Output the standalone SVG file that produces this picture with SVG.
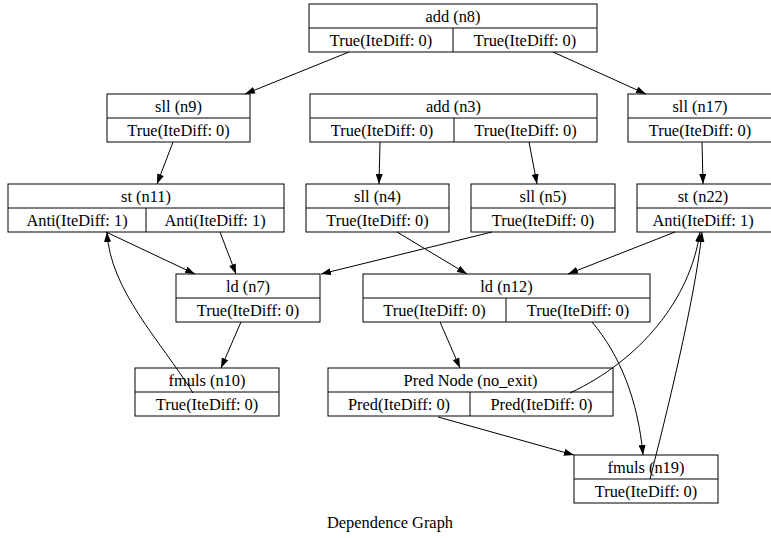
<svg xmlns="http://www.w3.org/2000/svg" width="771" height="538" viewBox="0 0 771 538">
<style>
.b{fill:#fff;stroke:#000;stroke-width:1}
.l{stroke:#000;stroke-width:1;fill:none}
text{font-family:"Liberation Serif","Times New Roman",serif;font-size:16.4px;fill:#000;text-anchor:middle}
.e{fill:none;stroke:#000;stroke-width:1;marker-end:url(#ah)}
</style>
<defs>
<marker id="ah" viewBox="0 0 10 7" refX="10" refY="3.5" markerWidth="10" markerHeight="7" markerUnits="userSpaceOnUse" orient="auto">
<path d="M0,0 L10,3.5 L0,7 z" fill="#000"/>
</marker>
</defs>
<rect width="771" height="538" fill="#fff"/>
<g id="edges">
<path class="e" d="M349,52 L245,94"/>
<path class="e" d="M553,52 L646,94"/>
<path class="e" d="M173,142 L157,184"/>
<path class="e" d="M380,142 L379,184"/>
<path class="e" d="M529,142 L537,184"/>
<path class="e" d="M702,142 L703,184"/>
<path class="e" d="M106,232 L195,274"/>
<path class="e" d="M220,232 L236,274"/>
<path class="e" d="M193,393 C160,340 110,290 107,232"/>
<path class="e" d="M397,232 L467,274"/>
<path class="e" d="M492,232 L321,274"/>
<path class="e" d="M675,232 L568,274"/>
<path class="e" d="M241,322 L221,368"/>
<path class="e" d="M440,322 L460,368"/>
<path class="e" d="M592,322 C620,355 638,400 643,455"/>
<path class="e" d="M570,393 C640,360 690,300 700,232"/>
<path class="e" d="M650,479 C665,420 695,300 702,232"/>
<path class="e" d="M438,417 L574,455"/>
</g>
<g id="n8">
<rect class="b" x="309" y="4" width="288" height="48" fill-opacity="0"/>
<path class="l" d="M309,28 H597 M453,28 V52"/>
<text x="453" y="21.5">add (n8)</text>
<text x="381" y="45.5">True(IteDiff: 0)</text>
<text x="525" y="45.5">True(IteDiff: 0)</text>
</g>
<g id="n9">
<rect class="b" x="107" y="94" width="143" height="48" fill-opacity="0"/>
<path class="l" d="M107,118 H250"/>
<text x="178.5" y="111.5">sll (n9)</text>
<text x="178.5" y="135.5">True(IteDiff: 0)</text>
</g>
<g id="n3">
<rect class="b" x="310" y="94" width="287" height="48" fill-opacity="0"/>
<path class="l" d="M310,118 H597 M454,118 V142"/>
<text x="453.5" y="111.5">add (n3)</text>
<text x="382" y="135.5">True(IteDiff: 0)</text>
<text x="525.5" y="135.5">True(IteDiff: 0)</text>
</g>
<g id="n17">
<rect class="b" x="628" y="94" width="145" height="48" fill-opacity="0"/>
<path class="l" d="M628,118 H773"/>
<text x="700" y="111.5">sll (n17)</text>
<text x="700" y="135.5">True(IteDiff: 0)</text>
</g>
<g id="n11">
<rect class="b" x="8" y="184" width="276" height="48" fill-opacity="0"/>
<path class="l" d="M8,208 H284 M146,208 V232"/>
<text x="146" y="201.5">st (n11)</text>
<text x="77" y="225.5">Anti(IteDiff: 1)</text>
<text x="215" y="225.5">Anti(IteDiff: 1)</text>
</g>
<g id="n4">
<rect class="b" x="306" y="184" width="143" height="48" fill-opacity="0"/>
<path class="l" d="M306,208 H449"/>
<text x="377.5" y="201.5">sll (n4)</text>
<text x="377.5" y="225.5">True(IteDiff: 0)</text>
</g>
<g id="n5">
<rect class="b" x="471" y="184" width="144" height="48" fill-opacity="0"/>
<path class="l" d="M471,208 H615"/>
<text x="543" y="201.5">sll (n5)</text>
<text x="543" y="225.5">True(IteDiff: 0)</text>
</g>
<g id="n22">
<rect class="b" x="637" y="184" width="136" height="48" fill-opacity="0"/>
<path class="l" d="M637,208 H773"/>
<text x="703" y="201.5">st (n22)</text>
<text x="703" y="225.5">Anti(IteDiff: 1)</text>
</g>
<g id="n7">
<rect class="b" x="176" y="274" width="144" height="48" fill-opacity="0"/>
<path class="l" d="M176,298 H320"/>
<text x="248" y="291.5">ld (n7)</text>
<text x="248" y="315.5">True(IteDiff: 0)</text>
</g>
<g id="n12">
<rect class="b" x="363" y="274" width="287" height="48" fill-opacity="0"/>
<path class="l" d="M363,298 H650 M506,298 V322"/>
<text x="506.5" y="291.5">ld (n12)</text>
<text x="434.5" y="315.5">True(IteDiff: 0)</text>
<text x="578" y="315.5">True(IteDiff: 0)</text>
</g>
<g id="n10">
<rect class="b" x="135" y="368" width="144" height="48" fill-opacity="0"/>
<path class="l" d="M135,392 H279"/>
<text x="207" y="385.5">fmuls (n10)</text>
<text x="207" y="409.5">True(IteDiff: 0)</text>
</g>
<g id="pred">
<rect class="b" x="328" y="368" width="285" height="48" fill-opacity="0"/>
<path class="l" d="M328,392 H613 M470,392 V416"/>
<text x="470.5" y="385.5">Pred Node (no_exit)</text>
<text x="399" y="409.5">Pred(IteDiff: 0)</text>
<text x="541.5" y="409.5">Pred(IteDiff: 0)</text>
</g>
<g id="n19">
<rect class="b" x="574" y="455" width="144" height="48" fill-opacity="0"/>
<path class="l" d="M574,479 H718"/>
<text x="646" y="472.5">fmuls (n19)</text>
<text x="646" y="496.5">True(IteDiff: 0)</text>
</g>
<text x="390" y="528">Dependence Graph</text>
</svg>
